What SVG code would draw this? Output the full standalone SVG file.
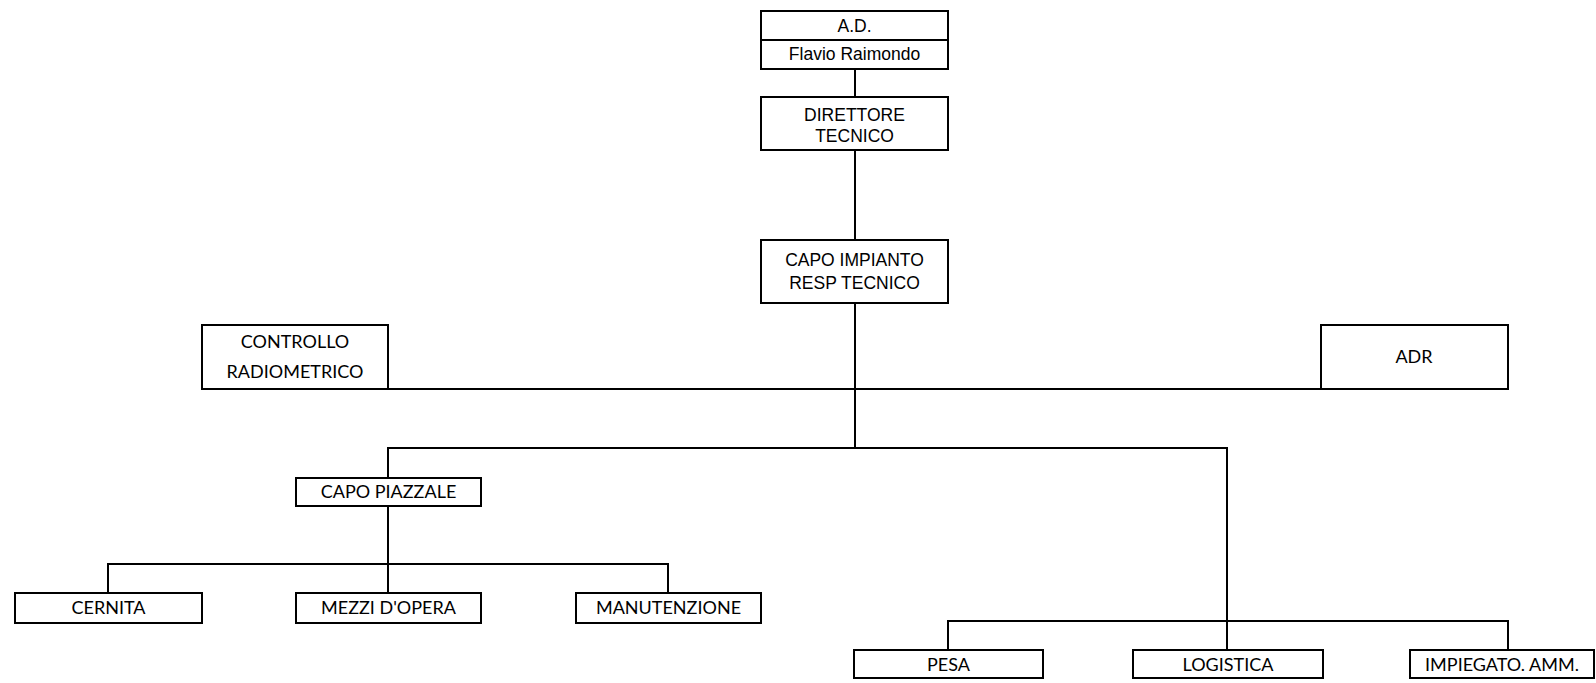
<svg xmlns="http://www.w3.org/2000/svg" width="1596" height="683" viewBox="0 0 1596 683">
<style>
.n rect{fill:#fff;stroke:#000;stroke-width:2}
.c line,.c path{stroke:#000;stroke-width:2;fill:none}
.a{font-family:"Liberation Sans",Arial,sans-serif;font-size:17.5px;fill:#000;text-anchor:middle}
.b{font-family:Lato,"Open Sans",sans-serif;font-size:18px;fill:#000;text-anchor:middle}
</style>
<rect width="1596" height="683" fill="#fff"/>
<g class="c" id="connectors">
<line x1="855" y1="69" x2="855" y2="97"/>
<line x1="855" y1="150" x2="855" y2="240"/>
<line x1="855" y1="303" x2="855" y2="448"/>
<line x1="388" y1="389" x2="1321" y2="389"/>
<path d="M388 478 V448 H1227 V650"/>
<path d="M388 506 V593"/>
<path d="M108 593 V564 H668 V593"/>
<path d="M948 650 V621 H1508 V650"/>
</g>
<g id="ad" class="n">
<rect x="761" y="11" width="187" height="58"/>
<line x1="761" y1="40" x2="948" y2="40" stroke="#000" stroke-width="2"/>
<text class="a" x="854.5" y="32">A.D.</text>
<text class="a" x="854.5" y="60">Flavio Raimondo</text>
</g>
<g id="direttore" class="n">
<rect x="761" y="97" width="187" height="53"/>
<text class="a" x="854.5" y="121">DIRETTORE</text>
<text class="a" x="854.5" y="142">TECNICO</text>
</g>
<g id="capo-impianto" class="n">
<rect x="761" y="240" width="187" height="63"/>
<text class="a" x="854.5" y="266">CAPO IMPIANTO</text>
<text class="a" x="854.5" y="289">RESP TECNICO</text>
</g>
<g id="controllo" class="n">
<rect x="202" y="325" width="186" height="64"/>
<text class="b" x="295" y="348">CONTROLLO</text>
<text class="b" x="295" y="378">RADIOMETRICO</text>
</g>
<g id="adr" class="n">
<rect x="1321" y="325" width="187" height="64"/>
<text class="b" x="1414" y="363">ADR</text>
</g>
<g id="capo-piazzale" class="n">
<rect x="296" y="478" width="185" height="28"/>
<text class="b" x="388.5" y="497.5">CAPO PIAZZALE</text>
</g>
<g id="cernita" class="n">
<rect x="15" y="593" width="187" height="30"/>
<text class="b" x="108.5" y="614">CERNITA</text>
</g>
<g id="mezzi" class="n">
<rect x="296" y="593" width="185" height="30"/>
<text class="b" x="388.5" y="614">MEZZI D'OPERA</text>
</g>
<g id="manutenzione" class="n">
<rect x="576" y="593" width="185" height="30"/>
<text class="b" x="668.5" y="614">MANUTENZIONE</text>
</g>
<g id="pesa" class="n">
<rect x="854" y="650" width="189" height="28"/>
<text class="b" x="948.5" y="671">PESA</text>
</g>
<g id="logistica" class="n">
<rect x="1133" y="650" width="190" height="28"/>
<text class="b" x="1228" y="671">LOGISTICA</text>
</g>
<g id="impiegato" class="n">
<rect x="1410" y="650" width="184" height="28"/>
<text class="b" x="1502" y="671">IMPIEGATO. AMM.</text>
</g>
</svg>
